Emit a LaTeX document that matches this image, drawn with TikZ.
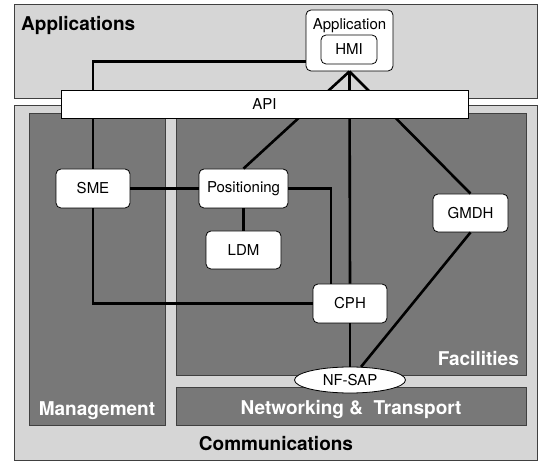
\documentclass[tikz,border=0pt]{standalone}
\usepackage{fontspec}
\setmainfont{TeX Gyre Heros}
\usetikzlibrary{calc,shapes}
\tikzset{
  layer/.style={draw=black!75,line width=.8pt},
  lightbox/.style={layer,fill=black!16},
  darkbox/.style={layer,fill=black!53},
  blk/.style={draw,line width=.8pt,fill=white,rounded corners=5pt,inner sep=0pt,font=\fontsize{15}{18}\selectfont},
  link/.style={line width=2.6pt},
  lbl/.style={font=\bfseries\fontsize{19}{22}\selectfont,inner sep=0pt}
}
\begin{document}
\begin{tikzpicture}[x=1pt,y=-1pt]
    \useasboundingbox (0,0) rectangle (539,462);
    \begin{scope}[shift={(0,0)}]
      \draw[lightbox] (14,4) rectangle (537,98);
      \draw[lightbox] (14,105) rectangle (537,460);
      \draw[darkbox] (29,113) rectangle (165,425);
      \draw[darkbox] (176,113) rectangle (526,375);
      \draw[darkbox] (176,387) rectangle (526,425);
      \node[lbl,anchor=base west] (applbl) at (21,31) {Applications};
      \node[lbl,anchor=base,text=white] (mgmtlbl) at (97,416) {Management};
      \node[lbl,anchor=base,text=white] (netlbl) at (351,415) {Networking \&~ Transport};
      \node[lbl,anchor=base east,text=white] (faclbl) at (519,366) {Facilities};
      \node[lbl,anchor=base] (commlbl) at (276,451) {Communications};
    \end{scope}
    \node[blk,minimum width=87pt,minimum height=61pt,
          label={[anchor=base,yshift=-20pt,font=\fontsize{15}{18}\selectfont]north:Application}] (app) at (349.5,40.5) {};
    \node[blk,minimum width=56pt,minimum height=29pt] (hmi) at (349,49.5) {HMI};
    \node[blk,minimum width=74pt,minimum height=39pt] (sme) at (93,188.5) {SME};
    \node[blk,minimum width=89pt,minimum height=39pt] (pos) at (243.5,188.5) {Positioning};
    \node[blk,minimum width=75pt,minimum height=38pt] (ldm) at (243.5,250) {LDM};
    \node[blk,minimum width=74pt,minimum height=39pt] (cph) at (350,303.5) {CPH};
    \node[blk,minimum width=75pt,minimum height=38pt] (gmdh) at (470.5,213) {GMDH};
    \node[ellipse,draw,line width=.8pt,fill=white,minimum width=111pt,minimum height=26pt,inner sep=0pt,
          font=\fontsize{15}{18}\selectfont] (nfsap) at (350,380) {NF-SAP};
    \draw[link] (sme.north) |- ([yshift=10pt]app.south west);
    \draw[link] (sme.south) |- (cph.west);
    \draw[link] (sme) -- (pos);
    \draw[link] (pos) -- (ldm);
    \draw[link] (pos.east) -| ([xshift=-19pt]cph.north);
    \draw[link] (app.south) -- (pos.north);
    \draw[link] (app.south) -- (cph.north);
    \draw[link] (app.south) -- (gmdh.north);
    \draw[link] (cph) -- (nfsap);
    \draw[link] (gmdh.south) -- (nfsap.50);
    \node[draw,line width=.8pt,fill=white,minimum width=407pt,minimum height=28pt,inner sep=0pt,
          font=\fontsize{15}{18}\selectfont] (api) at (264.5,104) {API};
  \end{tikzpicture}
\end{document}
